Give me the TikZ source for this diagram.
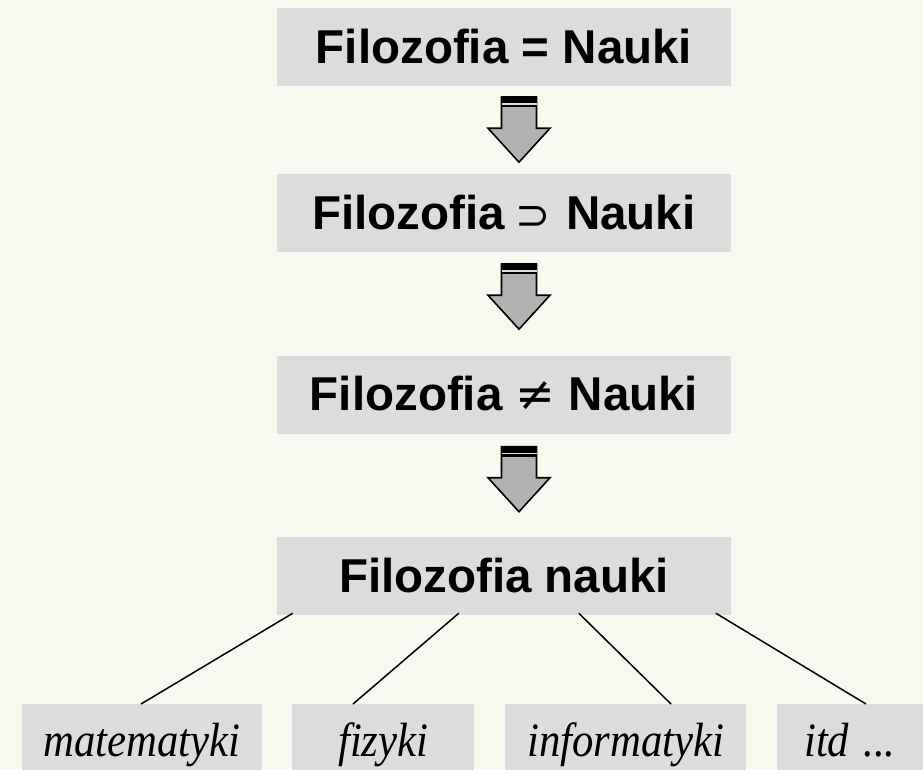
\documentclass[tikz,border=0pt]{standalone}
\usepackage{fontspec}
\setmainfont{Liberation Serif}
\newfontfamily\hvfont{Liberation Sans}
\newfontfamily\symfont{DejaVu Sans}
\usetikzlibrary{calc}
\definecolor{bgc}{RGB}{247,248,239}
\definecolor{boxc}{RGB}{220,220,220}
\definecolor{arrc}{RGB}{178,178,178}
\tikzset{
  topbox/.style={fill=boxc, draw=none, minimum width=454pt, minimum height=78pt, inner sep=0pt,
    font=\hvfont\bfseries\fontsize{47.5}{52}\selectfont, text height=32pt, text depth=0pt},
  botbox/.style={fill=boxc, draw=none, minimum height=80pt, inner sep=0pt, anchor=north west,
    font=\itshape\fontsize{48}{52}\selectfont, text height=34pt, text depth=10pt},
  branch/.style={draw=black, line width=1.5pt},
  blockarrow/.style={fill=arrc, draw=black, line width=1.6pt, line join=miter}
}
\newcommand{\blockarr}[1]{%
  \begin{scope}[shift={(#1)}]
    \path[blockarrow] (-17.5,0) -- (-17.5,31) -- (-31,31) -- (0,65) -- (31,31) -- (17.5,31) -- (17.5,0) -- cycle;
    \fill[black] (-18.3,-0.8) rectangle (18.3,6);
    \fill[boxc] (-17.5,6) rectangle (17.5,7.5);
    \fill[black] (-18.3,7.5) rectangle (18.3,10);
  \end{scope}}
\newcommand{\narrowit}[1]{\scalebox{0.89}[1]{#1}}
\begin{document}
\begin{tikzpicture}[x=1pt,y=-1pt]
\useasboundingbox (0,0) rectangle (923,769);
\fill[bgc] (0,0) rectangle (923,769);
\clip (0,0) rectangle (923,769);

\node[topbox] (b1) at (504,47) {Filozofia = Nauki};
\node[topbox] (b2) at (504,213) {Filozofia\hspace{10pt}{\symfont\mdseries\fontsize{42}{46}\selectfont ⊃}\hspace{16pt}Nauki};
\node[topbox] (b3) at (504,394.5) {Filozofia {\symfont\mdseries ≠} Nauki};
\node[topbox] (b4) at (504,576) {Filozofia nauki};

\blockarr{$(b1.south)+(15,11)$}
\blockarr{$(b2.south)+(15,12)$}
\blockarr{$(b3.south)+(15,13)$}

\node[botbox, minimum width=240pt] (mat) at (22,704) {\narrowit{matematyki}};
\node[botbox, minimum width=182pt] (fiz) at (292,704) {\narrowit{fizyki}};
\node[botbox, minimum width=241pt] (inf) at (505,704) {\narrowit{informatyki}};
\node[botbox, minimum width=156pt, text width=140pt, align=left] (itd) at (777,704) {\hspace*{19pt}\narrowit{itd ...}};

\coordinate (t1) at ($(b4.south west)+(16,-2)$);
\coordinate (t2) at ($(b4.south west)+(182,-2)$);
\coordinate (t3) at ($(b4.south west)+(302,-2)$);
\coordinate (t4) at ($(b4.south west)+(439,-2)$);
\coordinate (e1) at ($(mat.north west)+(119,0)$);
\coordinate (e2) at ($(fiz.north west)+(61,0)$);
\coordinate (e3) at ($(inf.north west)+(166,0)$);
\coordinate (e4) at ($(itd.north west)+(89,0)$);
\draw[branch] (t1) -- (e1);
\draw[branch] (t2) -- (e2);
\draw[branch] (t3) -- (e3);
\draw[branch] (t4) -- (e4);
\end{tikzpicture}
\end{document}
